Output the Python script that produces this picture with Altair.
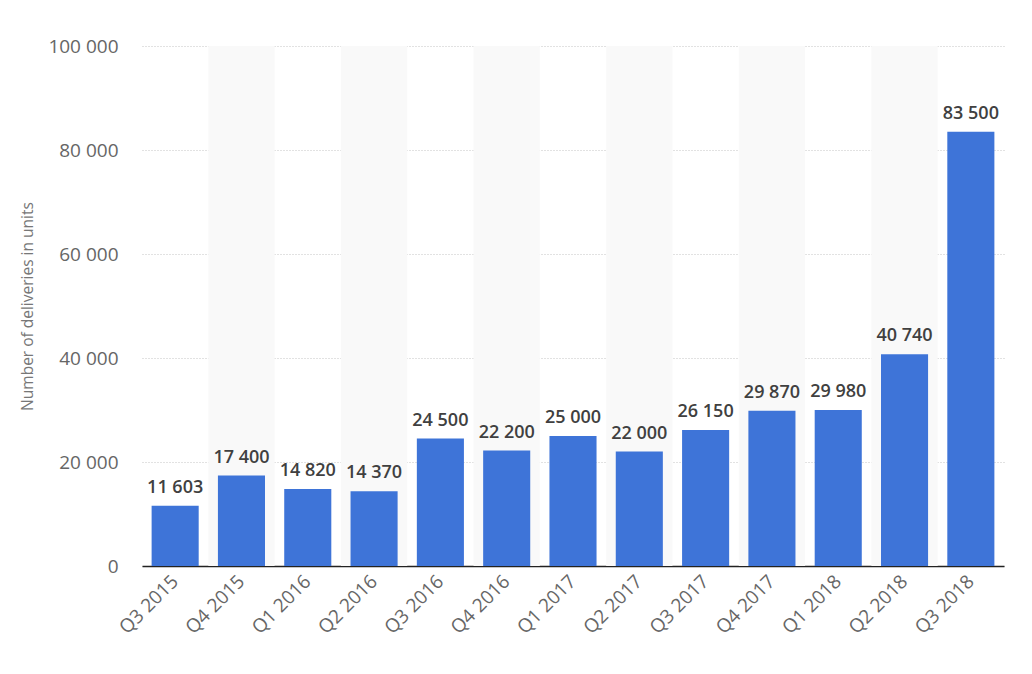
import altair as alt
import pandas as pd

quarters = ["Q3 2015", "Q4 2015", "Q1 2016", "Q2 2016", "Q3 2016", "Q4 2016",
            "Q1 2017", "Q2 2017", "Q3 2017", "Q4 2017", "Q1 2018", "Q2 2018", "Q3 2018"]
deliveries = [11603, 17400, 14820, 14370, 24500, 22200, 25000, 22000, 26150,
              29870, 29980, 40740, 83500]
y_ticks = [0, 20000, 40000, 60000, 80000, 100000]

df = pd.DataFrame({"quarter": quarters, "value": deliveries})
df["idx"] = range(len(df))
df["top"] = 100000

FONT = "Open Sans"

x_enc = alt.X("quarter:N", sort=quarters, title=None,
              scale=alt.Scale(paddingInner=0, paddingOuter=0),
              axis=alt.Axis(labelAngle=-45, labelAlign="right", labelBaseline="middle",
                            labelFontSize=19, labelColor="#666", labelFont=FONT,
                            labelPadding=12, ticks=False, domain=True,
                            domainColor="#222", domainWidth=1.5, grid=False))

base = alt.Chart(df)

bg = base.transform_filter("datum.idx % 2 == 1").mark_bar(
    color="#f9f9f9", width=alt.RelativeBandSize(1.0)
).encode(x=x_enc, y=alt.Y("top:Q"), y2=alt.datum(0))

bars = base.mark_bar(color="#3e74d8", width=alt.RelativeBandSize(0.71)).encode(
    x=x_enc,
    y=alt.Y("value:Q", title="Number of deliveries in units",
            scale=alt.Scale(domain=[0, 100000], nice=False),
            axis=alt.Axis(values=y_ticks, labelExpr="replace(format(datum.value, ','), ',', ' ')",
                          labelFontSize=19, labelColor="#666", labelFont=FONT,
                          labelPadding=24, ticks=False, domain=False,
                          grid=True, gridColor="#c4c4c4", gridDash=[1, 2], gridWidth=1,
                          titleFont=FONT, titleFontSize=15.5, titleColor="#777",
                          titleFontWeight="normal", titleX=-115, titleY=260,
                          titleAngle=-90, titleAlign="center", titleBaseline="middle")),
)

labels = base.transform_calculate(
    label="replace(format(datum.value, ','), ',', ' ')"
).mark_text(baseline="bottom", dy=-9, font=FONT, fontSize=18, fontWeight=600,
            color="#404040").encode(x=x_enc, y="value:Q", text="label:N")

chart = alt.layer(bg, bars, labels).properties(
    width=862, height=520,
    autosize=alt.AutoSizeParams(type="none"),
    padding={"left": 134, "top": 38, "right": 20, "bottom": 100},
).configure_view(stroke=None)

chart.save("out.html", embed_options={"renderer": "svg", "actions": False})
